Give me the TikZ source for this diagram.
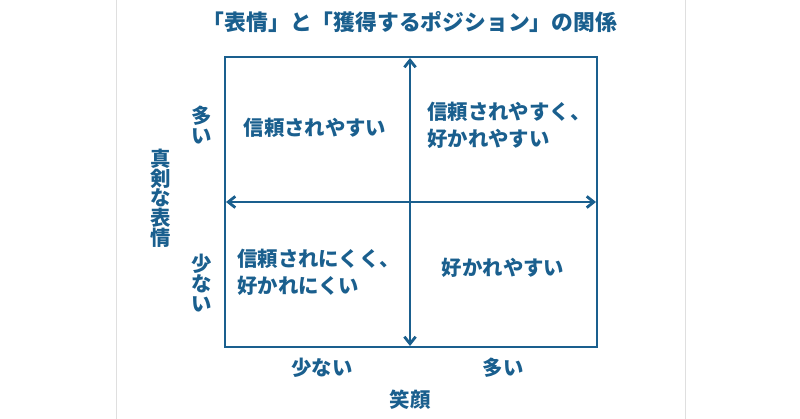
\documentclass[tikz,border=0pt]{standalone}
\usepackage{fontspec}
\setmainfont{Noto Sans CJK JP}
\usetikzlibrary{arrows.meta}
\definecolor{blu}{HTML}{1A5F8E}
\begin{document}
\begin{tikzpicture}[x=0.025cm,y=-0.025cm,
  lbl/.style={text=blu,font=\fontsize{14.5}{19}\selectfont\bfseries,inner sep=0},
  vl/.style={text=blu,font=\fontsize{14.5}{14}\selectfont\bfseries,inner sep=0,align=center},
  ttl/.style={text=blu,font=\fontsize{15.5}{18}\selectfont\bfseries,inner sep=0},
  ln/.style={draw=blu,line width=2pt},
  ar/.style={ln,{Straight Barb[length=5pt,width=8pt]}-{Straight Barb[length=5pt,width=8pt]}}]
\useasboundingbox (0,0) rectangle (800,419);
\draw[gray!25,line width=0.6pt] (116,0) -- (116,419) (685,0) -- (685,419);
\node[ttl] (title) at (410,22) {「表情」と「獲得するポジション」の関係};
\draw[ln] (225,57) rectangle (597,347);
\coordinate (t) at (410,58); \coordinate (b) at (410,346);
\coordinate (l) at (226,202); \coordinate (r) at (596,202);
\draw[ar] (t) -- (b);
\draw[ar] (l) -- (r);
\node[lbl] (tl) at (315,128) {信頼されやすい};
\node[lbl,anchor=west,align=left] (tr) at (427,125) {信頼されやすく、\\好かれやすい};
\node[lbl,anchor=west,align=left] (bl) at (237,272) {信頼されにくく、\\好かれにくい};
\node[lbl] (br) at (503,268) {好かれやすい};
\node[vl] (ym) at (202,125) {多\\い};
\node[vl] (yl) at (202,283) {少\\な\\い};
\node[vl] (yt) at (161,198) {真\\剣\\な\\表\\情};
\node[lbl] (xl) at (322,368) {少ない};
\node[lbl] (xm) at (503,368) {多い};
\node[lbl] (xt) at (410,400) {笑顔};
\end{tikzpicture}
\end{document}
